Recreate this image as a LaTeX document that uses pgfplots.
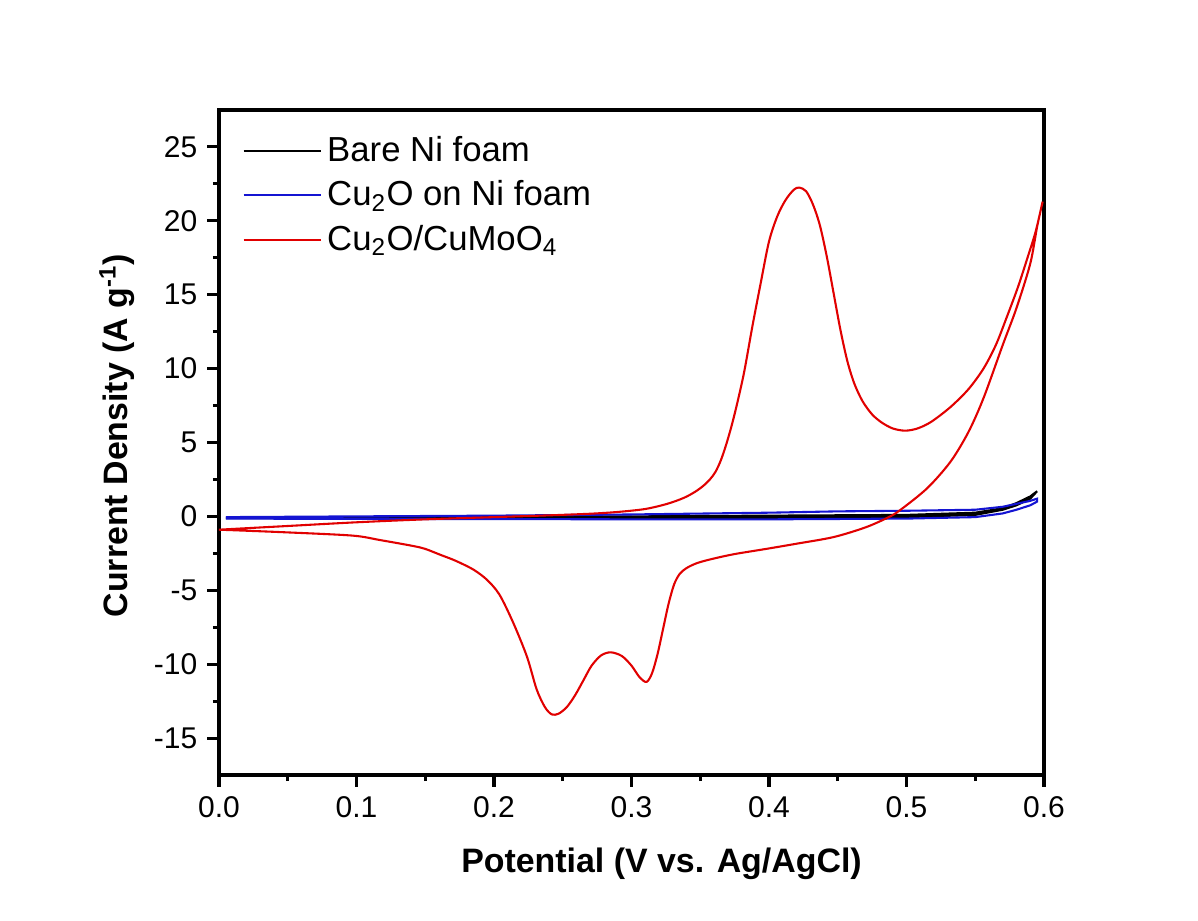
\documentclass[border=0pt]{standalone}
\usepackage{fontspec}
\setmainfont{Liberation Sans}
\usepackage{pgfplots}
\pgfplotsset{compat=1.18}
\definecolor{cblue}{RGB}{20,20,210}
\definecolor{cred}{RGB}{225,0,0}
\begin{document}
\begin{tikzpicture}
\begin{axis}[name=ax, width=297pt, height=239.4pt, scale only axis,
  xmin=0, xmax=0.6, ymin=-17.5, ymax=27.5,
  xtick={0,0.1,0.2,0.3,0.4,0.5,0.6}, ytick={-15,-10,-5,0,5,10,15,20,25},
  minor x tick num=1, minor y tick num=1,
  tick align=outside, tick pos=left,
  major tick length=4.3pt, minor tick length=2.2pt,
  axis line style={line width=1.1pt},
  every tick/.style={line width=1.1pt, black},
  /pgf/number format/assume math mode=true,
  ticklabel style={font=\fontsize{10.8}{12}\selectfont},
  xticklabel style={/pgf/number format/.cd, fixed, fixed zerofill, precision=1},
  yticklabel style={/pgf/number format/.cd, fixed, precision=0},
  xlabel={\textbf{Potential (V vs. Ag/AgCl)}},
  ylabel={\textbf{Current Density (A g\textsuperscript{-1})}},
  label style={font=\fontsize{12.2}{14}\selectfont},
  xlabel style={xshift=10.8pt, yshift=-4pt},
  ylabel style={xshift=2.5pt},
  legend style={draw=none, fill=none, at={(0.028,0.97)}, anchor=north west,
    font=\fontsize{12.5}{15}\selectfont, row sep=1.5pt, inner sep=0pt},
  legend cell align=left,
  legend image code/.code={\draw[#1] (0pt,0pt) -- (27.7pt,0pt);},
]
\addplot[black, line width=0.75pt] coordinates {
(0.005,-0.10) (0.1,-0.07) (0.2,-0.05) (0.3,0.0) (0.4,0.05) (0.5,0.10) (0.55,0.25) (0.57,0.55) (0.58,0.90) (0.59,1.35) (0.595,1.7)
(0.59,1.2) (0.58,0.75) (0.57,0.45) (0.55,0.10) (0.5,-0.05) (0.4,-0.10) (0.3,-0.10) (0.2,-0.12) (0.1,-0.12) (0.005,-0.12)
};
\addlegendentry{Bare Ni foam}
\addplot[cblue, line width=0.75pt] coordinates {
(0.005,-0.05) (0.1,0.0) (0.2,0.05) (0.3,0.13) (0.4,0.25) (0.45,0.34) (0.5,0.38) (0.55,0.45) (0.57,0.65) (0.58,0.85) (0.59,1.05) (0.595,1.2)
(0.595,1.0) (0.59,0.75) (0.58,0.45) (0.57,0.2) (0.55,-0.05) (0.5,-0.15) (0.4,-0.2) (0.3,-0.2) (0.2,-0.18) (0.1,-0.17) (0.005,-0.15)
};
\addlegendentry{Cu\textsubscript{2}O on Ni foam}
\addplot[cred, line width=0.75pt, smooth, tension=0.5] coordinates {
(0.000,-0.90) (0.050,-0.65) (0.100,-0.40) (0.150,-0.20) (0.200,-0.05) (0.240,0.07) (0.270,0.18) (0.290,0.30)
(0.310,0.50) (0.326,0.85) (0.338,1.25) (0.346,1.65) (0.352,2.05) (0.357,2.50) (0.361,3.0) (0.365,3.80)
(0.369,4.90) (0.373,6.20) (0.377,7.70) (0.382,9.80) (0.388,12.9) (0.394,15.8) (0.400,18.6) (0.406,20.3)
(0.412,21.4) (0.418,22.1) (0.422,22.25) (0.427,22.0) (0.432,21.1) (0.437,19.7) (0.442,17.6) (0.447,15.1)
(0.452,12.6) (0.457,10.5) (0.462,9.0) (0.468,7.8) (0.475,6.9) (0.482,6.35) (0.490,5.95) (0.499,5.8)
(0.508,5.95) (0.518,6.4) (0.532,7.4) (0.545,8.6) (0.556,10.0) (0.565,11.6) (0.573,13.5) (0.581,15.5)
(0.588,17.5) (0.594,19.3) (0.599,21.3)
(0.595,19.6) (0.590,17.1) (0.580,14.1) (0.570,11.6) (0.556,8.0) (0.545,5.7) (0.532,3.7) (0.515,1.9)
(0.495,0.4) (0.486,-0.1) (0.470,-0.75) (0.447,-1.4) (0.420,-1.85) (0.398,-2.2) (0.375,-2.55) (0.360,-2.85)
(0.348,-3.15) (0.340,-3.5) (0.335,-3.9) (0.331,-4.6) (0.327,-5.9) (0.323,-7.6) (0.319,-9.3) (0.315,-10.6)
(0.311,-11.2) (0.306,-10.9) (0.300,-10.1) (0.293,-9.45) (0.285,-9.2) (0.278,-9.4) (0.271,-10.1) (0.265,-11.1)
(0.259,-12.1) (0.253,-12.9) (0.247,-13.35) (0.242,-13.4) (0.237,-12.9) (0.231,-11.7) (0.224,-9.5) (0.214,-7.2)
(0.204,-5.3) (0.195,-4.3) (0.185,-3.6) (0.172,-3.0) (0.161,-2.6) (0.150,-2.2) (0.141,-2.0) (0.117,-1.6)
(0.097,-1.3) (0.049,-1.08) (0.000,-0.90)
};
\addlegendentry{Cu\textsubscript{2}O/CuMoO\textsubscript{4}}
\end{axis}
\pgfresetboundingbox
\path ([shift={(-78.84pt,-52.56pt)}]ax.south west) rectangle ([shift={(55.44pt,39.6pt)}]ax.north east);
\end{tikzpicture}
\end{document}
